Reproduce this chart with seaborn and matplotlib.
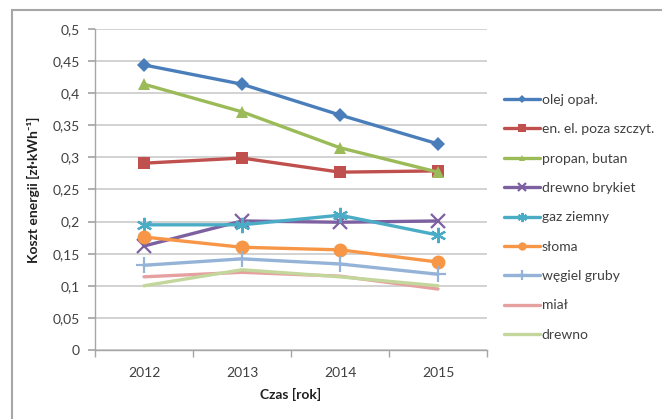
import numpy as np
import pandas as pd
import matplotlib
matplotlib.use("Agg")
import matplotlib.pyplot as plt
from matplotlib.patches import Rectangle
from matplotlib.ticker import FixedLocator, FuncFormatter
import seaborn as sns

years = [2012, 2013, 2014, 2015]

olej_opal = [0.444, 0.414, 0.366, 0.321]
en_el = [0.291, 0.299, 0.277, 0.279]
propan_butan = [0.414, 0.371, 0.315, 0.277]
drewno_brykiet = [0.162, 0.201, 0.199, 0.201]
gaz_ziemny = [0.195, 0.195, 0.210, 0.179]
sloma = [0.176, 0.160, 0.156, 0.137]
wegiel_gruby = [0.132, 0.142, 0.134, 0.118]
mial = [0.114, 0.121, 0.115, 0.095]
drewno = [0.100, 0.125, 0.114, 0.100]

labels = ["olej opał.", "en. el. poza szczyt.", "propan, butan", "drewno brykiet",
          "gaz ziemny", "słoma", "węgiel gruby", "miał", "drewno"]
series = [olej_opal, en_el, propan_butan, drewno_brykiet, gaz_ziemny,
          sloma, wegiel_gruby, mial, drewno]

colors = ["#4A7EBB", "#C0504D", "#9BBB59", "#7D60A0", "#4BACC6",
          "#F79646", "#95B3D7", "#E6A0A0", "#C3D69B"]
markers = ["D", "s", "^", "x", (6, 2, 0), "o", "+", None, None]
msizes = [7, 9, 8, 10, 11, 10, 11, 0, 0]

sns.set_theme(style="white")
plt.rcParams["font.family"] = ["Lato", "DejaVu Sans"]

fig = plt.figure(figsize=(6.62, 4.19), dpi=100)
fig.patch.set_facecolor("white")
fig.patches.append(Rectangle((12 / 662, -0.05), 1.0, 1 - 10 / 419 + 0.05,
                             transform=fig.transFigure, fill=False,
                             edgecolor="#A6A6A6", linewidth=1.5, zorder=0))

ax = fig.add_axes([95 / 662, 1 - 350 / 419, 392 / 662, 321 / 419])

df = pd.DataFrame({"rok": years})
for lab, vals, c, m, ms in zip(labels, series, colors, markers, msizes):
    df[lab] = vals
    kw = {}
    if m is not None:
        kw = dict(marker=m, markersize=ms, markeredgecolor=c, markerfacecolor=c)
        kw["markeredgewidth"] = 1.6 if (m in ("x", "+") or isinstance(m, tuple)) else 0
    sns.lineplot(data=df, x="rok", y=lab, ax=ax, color=c, linewidth=2.4,
                 label=lab, **kw)

ax.set_xlim(2011.5, 2015.5)
ax.set_ylim(0, 0.5)
ax.set_xticks(years)
ax.xaxis.set_minor_locator(FixedLocator([2011.5, 2012.5, 2013.5, 2014.5, 2015.5]))
ax.set_yticks(np.arange(0, 0.501, 0.05))
ax.yaxis.set_major_formatter(FuncFormatter(
    lambda v, p: f"{v:.2f}".rstrip("0").rstrip(".").replace(".", ",")))

ax.grid(axis="y", color="#CFCFCF", linewidth=1.3)
ax.set_axisbelow(True)
for s in ["top", "right"]:
    ax.spines[s].set_visible(False)
for s in ["left", "bottom"]:
    ax.spines[s].set_color("#A6A6A6")
    ax.spines[s].set_linewidth(1.0)

ax.tick_params(axis="y", which="major", left=True, length=5, color="#A6A6A6",
               labelsize=10, labelcolor="#404040", pad=6)
ax.tick_params(axis="x", which="major", bottom=False, labelsize=10,
               labelcolor="#404040", pad=6)
ax.tick_params(axis="x", which="minor", bottom=True, length=5, color="#A6A6A6")

ax.set_xlabel("Czas [rok]", fontsize=10, fontweight="bold", color="#202020", labelpad=7)
ax.set_ylabel("Koszt energii [zł·kWh⁻¹]", fontsize=10, fontweight="bold",
              color="#202020", labelpad=9)

leg = ax.legend(loc="upper left", bbox_to_anchor=(1.03, 0.815), frameon=False,
                fontsize=10, labelspacing=1.25, handlelength=2.6,
                handletextpad=0.1, borderaxespad=0)
for t in leg.get_texts():
    t.set_color("#404040")
for h in leg.legend_handles:
    h.set_markersize(h.get_markersize() * 0.6)

fig.savefig("out.png", dpi=100)
